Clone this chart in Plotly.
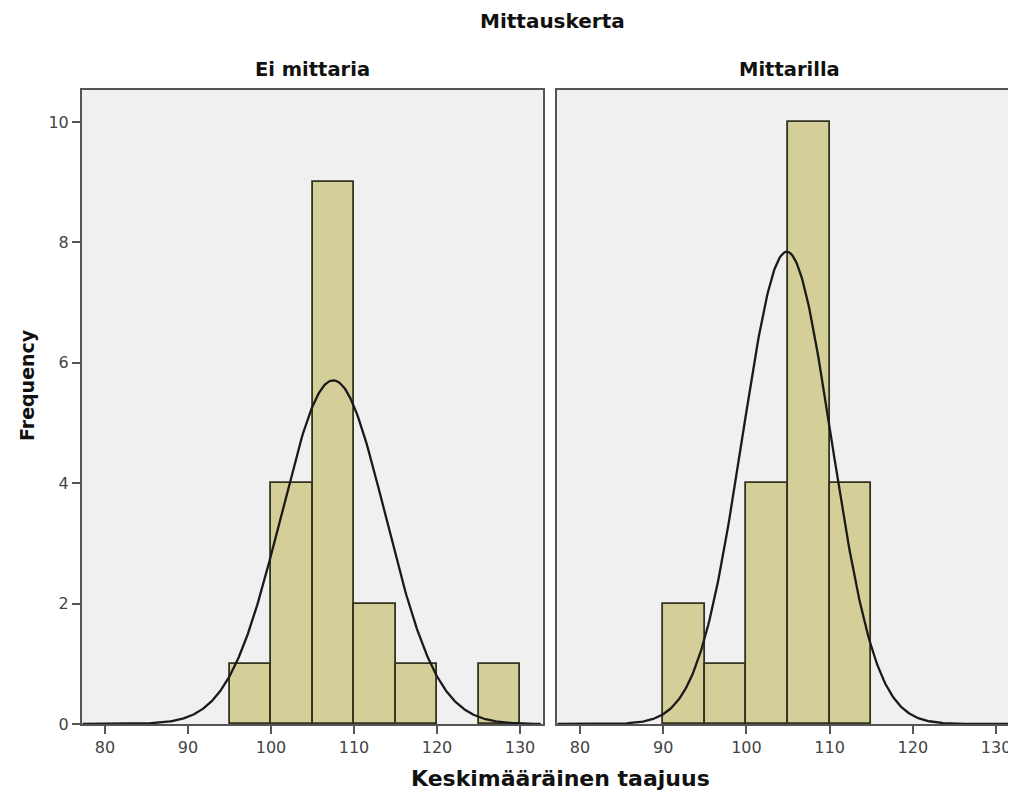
import numpy as np
import plotly.graph_objects as go

# ---- data ----
panel_titles = ["Ei mittaria", "Mittarilla"]
bin_width = 5
left_bin_starts = [95, 100, 105, 110, 115, 125]
left_counts = [1, 4, 9, 2, 1, 1]
right_bin_starts = [90, 95, 100, 105, 110]
right_counts = [2, 1, 4, 10, 4]
# fitted normal curve parameters (mean, sd) per panel
left_mean, left_sd = 107.5, 6.29
right_mean, right_sd = 104.85, 5.34
x_ticks = [80, 90, 100, 110, 120, 130]
y_ticks = [0, 2, 4, 6, 8, 10]

BAR_FILL = "#D4CF98"
BAR_LINE = "#33331F"
FRAME = "#555555"
TICKFONT = dict(family="DejaVu Sans, Liberation Sans, Arial", size=16, color="#444444")
BOLD = "DejaVu Sans, Liberation Sans, Arial"

fig = go.Figure()

def add_panel(starts, counts, mean, sd, xa, ya):
    centers = [s + bin_width / 2 for s in starts]
    fig.add_trace(go.Bar(
        x=centers, y=counts, width=[bin_width] * len(counts),
        marker=dict(color=BAR_FILL, line=dict(color=BAR_LINE, width=1.8)),
        xaxis=xa, yaxis=ya, showlegend=False, hoverinfo="x+y"))
    n = sum(counts)
    xs = np.linspace(77.3, 132.5, 400)
    ys = n * bin_width / (sd * np.sqrt(2 * np.pi)) * np.exp(-0.5 * ((xs - mean) / sd) ** 2)
    fig.add_trace(go.Scatter(
        x=xs, y=ys, mode="lines", line=dict(color="#1a1a1a", width=2.3),
        xaxis=xa, yaxis=ya, showlegend=False, hoverinfo="skip"))

add_panel(left_bin_starts, left_counts, left_mean, left_sd, "x", "y")
add_panel(right_bin_starts, right_counts, right_mean, right_sd, "x2", "y2")

xcommon = dict(
    tickmode="array", tickvals=x_ticks, ticks="outside", ticklen=8, tickwidth=2,
    tickcolor=FRAME, showline=True, linecolor=FRAME, linewidth=2, mirror=True,
    showgrid=False, zeroline=False, tickfont=TICKFONT, fixedrange=True,
)
ycommon = dict(
    range=[0, 10.53], tickmode="array", tickvals=y_ticks, showline=True,
    linecolor=FRAME, linewidth=2, showgrid=False, zeroline=False,
    tickfont=TICKFONT, fixedrange=True,
)

# page has an 8px body margin; figure is sized so the plot area spans x 82..1016, y 90..724
fig.update_layout(
    width=1008, height=792,
    margin=dict(l=74, r=0, t=82, b=76),
    paper_bgcolor="white", plot_bgcolor="#F0F0F0",
    bargap=0,
    xaxis=dict(domain=[0, 0.4936], range=[77.23, 132.77], **xcommon),
    xaxis2=dict(domain=[0.5086, 1.0], range=[77.24, 132.4], anchor="y2", **xcommon),
    yaxis=dict(ticks="outside", ticklen=8, tickwidth=2, tickcolor=FRAME, mirror=True, **ycommon),
    yaxis2=dict(anchor="x2", showticklabels=False, ticks="", mirror=False, **ycommon),
    font=dict(family=BOLD),
)

ann = [
    dict(text="<b>Mittauskerta</b>", x=552, y=21, size=20),
    dict(text="<b>%s</b>" % panel_titles[0], x=312, y=70, size=19.5),
    dict(text="<b>%s</b>" % panel_titles[1], x=789, y=70, size=19.5),
    dict(text="<b>Keskimääräinen taajuus</b>", x=560, y=778, size=22),
]
for a in ann:
    fig.add_annotation(
        text=a["text"], xref="paper", yref="paper",
        x=(a["x"] - 82) / 934, y=(724 - a["y"]) / 634,
        xanchor="center", yanchor="middle", showarrow=False,
        font=dict(family=BOLD, size=a["size"], color="#111111"))
fig.add_annotation(
    text="<b>Frequency</b>", xref="paper", yref="paper",
    x=(27 - 82) / 934, y=(724 - 385) / 634, textangle=-90,
    xanchor="center", yanchor="middle", showarrow=False,
    font=dict(family=BOLD, size=19, color="#111111"))

fig.write_html("out.html")
